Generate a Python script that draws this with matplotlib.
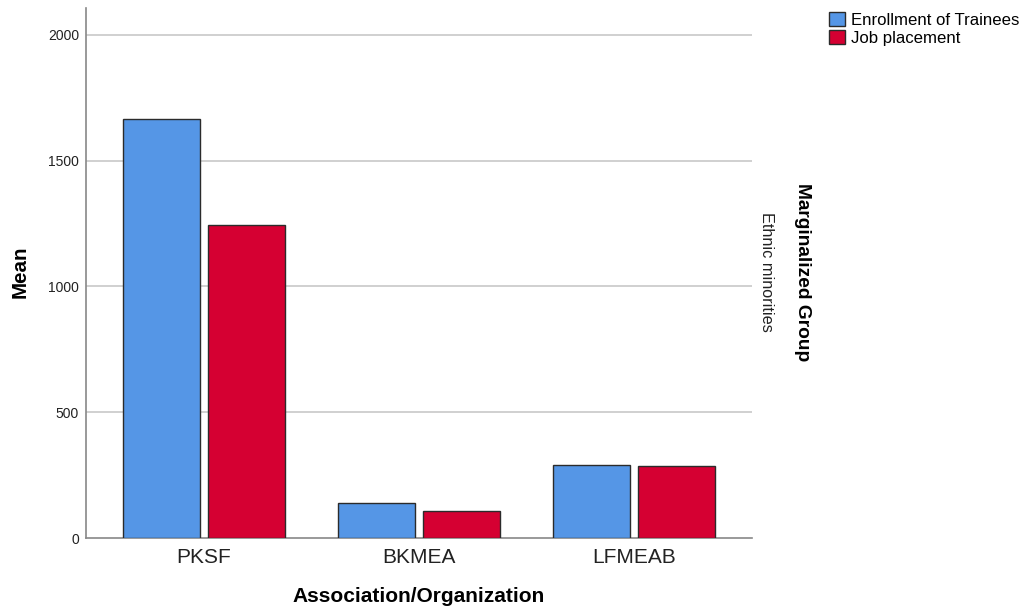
import matplotlib
matplotlib.use("Agg")
import matplotlib.pyplot as plt
import numpy as np
from matplotlib.patches import Patch

categories = ["PKSF", "BKMEA", "LFMEAB"]
series_names = ["Enrollment of Trainees", "Job placement"]
enrollment = [1666, 139, 290]
placement = [1245, 107, 286]
yticks = [0, 500, 1000, 1500, 2000]

plt.rcParams['font.family'] = ['Liberation Sans', 'DejaVu Sans']

fig = plt.figure(figsize=(10.22, 6.08), dpi=100)
ax = fig.add_axes([86/1022, 70/608, (752-86)/1022, (538-8)/608])

x = np.arange(len(categories))
w = 0.358
off = 0.198
colors = ["#5596E6", "#D50032"]
ax.bar(x - off, enrollment, w, color=colors[0], edgecolor="#2b2b2b", linewidth=1, zorder=3)
ax.bar(x + off, placement, w, color=colors[1], edgecolor="#2b2b2b", linewidth=1, zorder=3)

ax.set_xlim(-0.549, 2.549)
ax.set_ylim(0, 2107)
ax.set_yticks(yticks)
ax.set_yticklabels([str(v) for v in yticks], fontsize=10, color="#222222")
ax.set_xticks(x)
ax.set_xticklabels(categories, fontsize=15, color="#222222")
ax.tick_params(axis='y', length=0, pad=5)
ax.tick_params(axis='x', length=0, pad=7)
for t in yticks[1:]:
    ax.axhline(t, color="#c8c8c8", linewidth=1.2, zorder=1)
for s in ["top", "right"]:
    ax.spines[s].set_visible(False)
for s in ["left", "bottom"]:
    ax.spines[s].set_color("#888888")
    ax.spines[s].set_linewidth(1.2)

fig.text(20/1022, 1 - 272/608, "Mean", rotation=90, fontsize=14.8, fontweight="bold",
         ha="center", va="center")
fig.text(419/1022, 1 - 597/608, "Association/Organization", fontsize=15, fontweight="bold",
         ha="center", va="center")
fig.text(802/1022, 1 - 272/608, "Marginalized Group", rotation=-90, fontsize=13.8, fontweight="bold",
         ha="center", va="center")
fig.text(766/1022, 1 - 272/608, "Ethnic minorities", rotation=-90, fontsize=11.7,
         ha="center", va="center", color="#222222")

handles = [Patch(facecolor=c, edgecolor="#2b2b2b", linewidth=1) for c in colors]
fig.legend(handles, series_names, loc="upper left", bbox_to_anchor=(829/1022, 1 - 12/608),
           frameon=False, fontsize=12.1, handlelength=0.95, handleheight=0.9, handletextpad=0.35,
           labelspacing=0.15, borderpad=0.0, borderaxespad=0)

fig.savefig("out.png", dpi=100)
